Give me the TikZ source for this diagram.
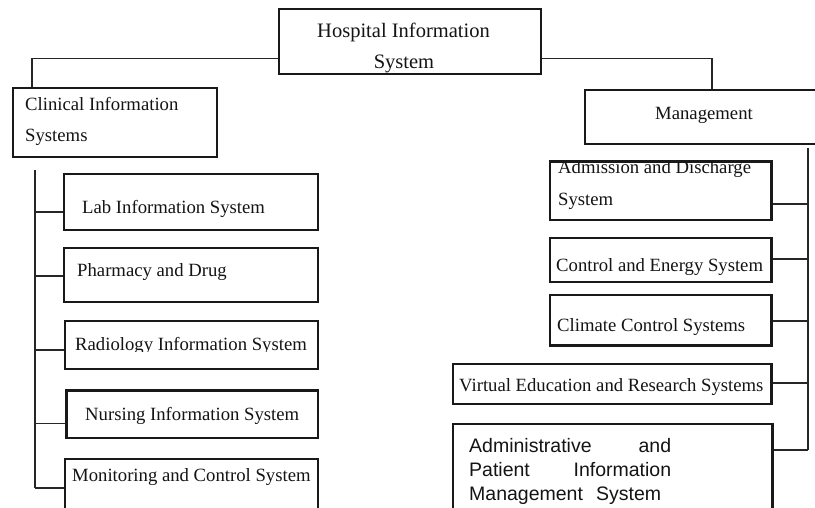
\documentclass[tikz,border=0pt]{standalone}
\usepackage{fontspec}
\setmainfont{Liberation Serif}
\newfontfamily\arialfont{Liberation Sans}
\begin{document}
\begin{tikzpicture}[x=1pt,y=-1pt,
  box/.style={draw=black!90,line width=2.2pt,rectangle,inner sep=0pt,fill=white},
  conn/.style={draw=black!85,line width=1.3pt},
  lbl/.style={anchor=base west,inner sep=0pt,text=black!92,font=\fontsize{18.7}{31}\selectfont},
  slbl/.style={anchor=base west,inner sep=0pt,text=black!92,font=\arialfont\fontsize{19.5}{24}\selectfont}]
\clip (0,0) rectangle (815,507);
\fill[white] (0,0) rectangle (815,507);
% coordinates for trunks
\coordinate (lt) at (35,170);
\coordinate (lb) at (35,488);
\coordinate (rt) at (808,148);
\coordinate (rb) at (808,450);
% connectors
\draw[conn] (lt) -- (lb);
\draw[conn] (rt) -- (rb);
% boxes
\node[box,minimum width=262pt,minimum height=65pt] (hosp) at (410,41.5) {};
\node[box,minimum width=204pt,minimum height=69pt] (clin) at (115,122.5) {};
\node[box,minimum width=237pt,minimum height=54pt] (mgmt) at (703.5,117) {};
\node[box,minimum width=254pt,minimum height=56pt] (lab) at (191,202) {};
\node[box,minimum width=254pt,minimum height=54pt] (pharm) at (191,275) {};
\node[box,minimum width=253pt,minimum height=48pt] (radio) at (191.5,345) {};
\node[box,minimum width=251.5pt,minimum height=47.5pt] (nurs) at (192.25,414.25) {};
\node[box,minimum width=253pt,minimum height=56pt] (monit) at (191.5,487) {};
\node[box,minimum width=221.5pt,minimum height=58pt] (adm) at (660.75,191) {};
\node[box,minimum width=221.5pt,minimum height=44pt] (ctrl) at (660.75,260) {};
\node[box,minimum width=221.5pt,minimum height=50.5pt] (clim) at (660.75,320.25) {};
\node[box,minimum width=318.5pt,minimum height=40pt] (virt) at (612.25,384) {};
\node[box,minimum width=319.5pt,minimum height=91pt] (admin) at (612.75,469.5) {};
% top connectors
\draw[conn] (hosp.west |- 0,58.5) -| (clin.north -| 32,0);
\draw[conn] (hosp.east |- 0,58.5) -| (mgmt.north -| 712,0);
% left branches
\draw[conn] (lab.west |- 0,212) -- (lt |- 0,212);
\draw[conn] (pharm.west |- 0,276) -- (lt |- 0,276);
\draw[conn] (radio.west |- 0,350) -- (lt |- 0,350);
\draw[conn] (nurs.west |- 0,423.5) -- (lt |- 0,423.5);
\draw[conn] (monit.west |- 0,488) -- (lb);
% right branches
\draw[conn] (adm.east |- 0,204) -- (rt |- 0,204);
\draw[conn] (ctrl.east |- 0,259) -- (rt |- 0,259);
\draw[conn] (clim.east |- 0,321) -- (rt |- 0,321);
\draw[conn] (virt.east |- 0,383) -- (rt |- 0,383);
\draw[conn] (admin.east |- 0,450) -- (rb);
% texts
\node[lbl,anchor=base,font=\fontsize{20.5}{31}\selectfont] (t1) at (403.5,37.3) {Hospital Information};
\node[lbl,anchor=base,font=\fontsize{20.5}{31}\selectfont] (t2) at (404,68.5) {System};
\node[lbl] (t3) at (25,110) {Clinical Information};
\node[lbl] (t4) at (25,141) {Systems};
\node[lbl,anchor=base] (t5) at (704,119) {Management};
\node[lbl] (t6) at (82,213) {Lab Information System};
\node[lbl] (t7) at (77,276) {Pharmacy and Drug};
\begin{scope}
\clip (60,320) rectangle (320,351.5);
\node[lbl] (t8) at (75,350.5) {Radiology Information System};
\end{scope}
\node[lbl] (t9) at (85,420.5) {Nursing Information System};
\node[lbl] (t10) at (72,481) {Monitoring and Control System};
\node[lbl] (t11) at (558,173) {Admission and Discharge};
\draw[box,fill=none] (adm.north west) -- (adm.north east);
\node[lbl] (t12) at (558,205) {System};
\node[lbl] (t13) at (556,271.5) {Control and Energy System};
\node[lbl] (t14) at (557,331.5) {Climate Control Systems};
\node[lbl] (t15) at (459,391.5) {Virtual Education and Research Systems};
\node[slbl] (t16) at (469,452.5) {\makebox[202pt][s]{Administrative\hfill and}};
\node[slbl] (t17) at (469,476.5) {\makebox[202pt][s]{Patient\hfill Information}};
\node[slbl] (t18) at (469,500.5) {\makebox[192pt][s]{Management System}};
\end{tikzpicture}
\end{document}
